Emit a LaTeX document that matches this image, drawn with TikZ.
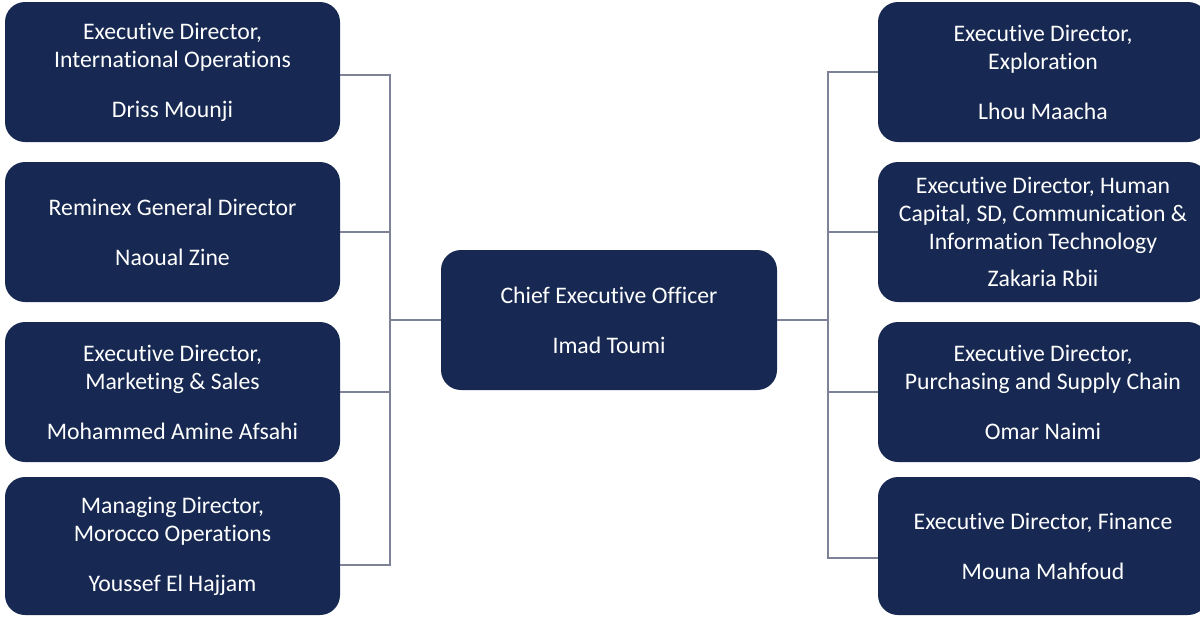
\documentclass[tikz,border=0pt]{standalone}
\usepackage{fontspec}
\setmainfont[Ligatures={NoCommon,NoContextual}]{Carlito}
\usepackage{tikz}
\usetikzlibrary{calc}
\definecolor{navy}{RGB}{23,41,82}
\definecolor{linegray}{RGB}{125,130,150}
\newcommand{\boxwidth}{6.7cm}
\newcommand{\boxheight}{2.8cm}
\newcommand{\leftx}{3.45cm}
\newcommand{\rightx}{20.86cm}
\newcommand{\centerx}{12.18cm}
\newcommand{\leftbusx}{7.8cm}
\newcommand{\rightbusx}{16.56cm}
\newcommand{\rowone}{-1.44cm}
\newcommand{\rowtwo}{-4.64cm}
\newcommand{\rowthree}{-7.84cm}
\newcommand{\rowfour}{-10.92cm}

\begin{document}
\begin{tikzpicture}[]
\tikzstyle{post}=[fill=navy,draw=none,rounded corners=0.4cm,minimum width=\boxwidth,minimum height=\boxheight,text=white,align=center,font=\fontsize{13.5}{15.9}\selectfont,inner sep=0pt]
\tikzstyle{rightpost}=[post,minimum width=6.6cm]
\tikzstyle{link}=[draw=linegray,line width=0.6pt]

\useasboundingbox (0,0) rectangle (24,-12.34);

\node(ceo) [post, minimum width=6.72cm] at (\centerx,-6.4cm) {Chief Executive Officer\\[12.5pt] Imad Toumi};

\node(intl)    [post] at (\leftx,\rowone)   {Executive Director,\\International Operations\\[12.5pt] Driss Mounji};
\node(reminex) [post] at (\leftx,\rowtwo)   {Reminex General Director\\[12.5pt] Naoual Zine};
\node(sales)   [post] at (\leftx,\rowthree) {Executive Director,\\Marketing \& Sales\\[12.5pt] Mohammed Amine Afsahi};
\node(morocco) [post, minimum height=2.76cm] at (\leftx,\rowfour) {Managing Director,\\Morocco Operations\\[12.5pt] Youssef El Hajjam};

\node(explo)   [rightpost] at (\rightx,\rowone)   {Executive Director,\\Exploration\\[12.5pt] Lhou Maacha};
\node(hcit)    [rightpost] at (\rightx,\rowtwo)   {Executive Director, Human\\Capital, SD, Communication \&\\Information Technology\\[5pt] Zakaria Rbii};
\node(purch)   [rightpost] at (\rightx,\rowthree) {Executive Director,\\Purchasing and Supply Chain\\[12.5pt] Omar Naimi};
\node(finance) [rightpost, minimum height=2.76cm] at (\rightx,\rowfour) {Executive Director, Finance\\[12.5pt] Mouna Mahfoud};

% left side
\coordinate (ltop) at ($(intl.east)+(0,-0.06)$);
\coordinate (lbot) at ($(morocco.east)+(0,-0.38)$);
\draw[link] (ltop) -- (ltop -| \leftbusx,0) -- (lbot -| \leftbusx,0) -- (lbot);
\draw[link] (reminex.east) -- (reminex.east -| \leftbusx,0);
\draw[link] (sales.east) -- (sales.east -| \leftbusx,0);
\draw[link] (ceo.west) -- (ceo.west -| \leftbusx,0);

% right side
\coordinate (rbot) at ($(finance.west)+(0,-0.24)$);
\draw[link] (explo.west) -- (explo.west -| \rightbusx,0) -- (rbot -| \rightbusx,0) -- (rbot);
\draw[link] (hcit.west) -- (hcit.west -| \rightbusx,0);
\draw[link] (purch.west) -- (purch.west -| \rightbusx,0);
\draw[link] (ceo.east) -- (ceo.east -| \rightbusx,0);

\end{tikzpicture}
\end{document}
